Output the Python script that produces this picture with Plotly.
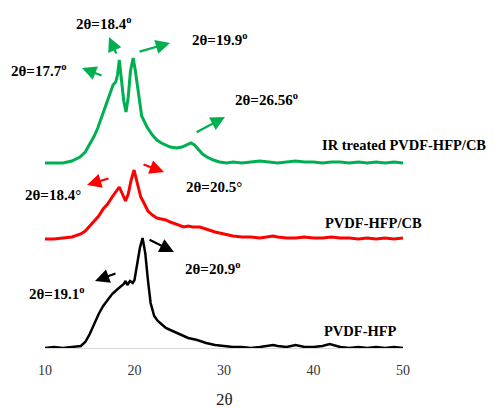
import plotly.graph_objects as go

# ---------------- data (2theta in degrees, intensity in a.u. above each baseline) -------------
two_theta_pvdf = [10, 11, 12, 13, 13.5, 14, 14.5, 15, 15.5, 16, 16.5, 17, 17.5, 18, 18.5, 18.8,
                  19.0, 19.2, 19.5, 19.8, 20.0, 20.3, 20.6, 20.9, 21.2, 21.5, 21.8, 22.2, 22.6,
                  23, 23.5, 24, 25, 26, 27, 28, 29, 30, 31, 32, 33, 34, 35, 35.5, 36, 37, 38,
                  38.5, 39, 40, 41, 41.8, 42.5, 43, 44, 45, 46, 47, 48, 49, 50]
int_pvdf = [0, 1, 0, 1, 1, 2, 6, 14, 24, 34, 42, 48, 54, 58, 62, 64,
            67, 63, 67, 65, 68, 85, 100, 110, 95, 68, 45, 32, 27,
            24, 20, 18, 14, 10, 8, 5, 3, 2, 1, 1, 0, 1, 2, 3, 2, 1, 3,
            2, 1, 1, 2, 4, 2, 1, 0, 1, 0, 1, 0, 1, 0]

two_theta_cb = [10, 11, 12, 13, 14, 14.5, 15, 15.5, 16, 16.5, 17, 17.5, 18.0, 18.3, 18.6, 19.0,
                19.3, 19.6, 19.95, 20.3, 20.7, 21.0, 21.5, 22, 22.5, 23, 23.5, 24, 25, 25.5,
                26, 26.5, 27.3, 28, 29, 30, 31, 32, 33, 34, 35, 35.5, 36, 37, 38, 39, 40, 41,
                42, 43, 44, 45, 46, 47, 48, 49, 50]
int_cb = [0, 0, 1, 2, 5, 8, 13, 18, 23, 30, 35, 42, 48, 52, 46, 38,
          45, 58, 69, 55, 42, 37, 28, 24, 21, 20, 19, 17, 14, 12,
          13, 12, 12, 10, 7, 5, 3, 2, 2, 1, 2, 3, 2, 1, 1, 2, 1, 1,
          2, 1, 1, 0, 1, 0, 1, 0, 1]

two_theta_ir = [10, 11, 12, 13, 13.9, 14.5, 15, 15.5, 15.9, 16.5, 17.0, 17.3, 17.6, 17.9, 18.1,
                18.3, 18.55, 18.8, 19.05, 19.3, 19.55, 19.85, 20.1, 20.4, 20.8, 21.4, 22,
                22.5, 23, 24, 24.7, 25.3, 25.8, 26.3, 26.7, 27.2, 27.6, 28.1, 28.8, 29.5,
                30.3, 31, 32, 33, 34, 35, 36, 37, 38, 39, 40, 41, 42, 43, 44, 45, 46, 47,
                48, 49, 50]
int_ir = [0, 0, 0, 2, 6, 11, 19, 27, 35, 50, 63, 72, 78, 81, 88,
          103, 85, 62, 51, 66, 92, 105, 92, 73, 47, 36, 28,
          23, 20, 16, 15, 16, 18, 20, 18, 13, 9, 6, 3, 1,
          0, 1, 0, 1, 2, 1, 0, 1, 2, 1, 1, 0, 1, 1, 0, 1, 0, 1,
          0, 1, 0]

series_names = ["PVDF-HFP", "PVDF-HFP/CB", "IR treated PVDF-HFP/CB"]
series_offsets = [0, 109, 185]
series_colors = ["#000000", "#ff0000", "#00b050"]
tick_values = [10, 20, 30, 40, 50]
tick_labels = ["10", "20", "30", "40", "50"]

# peak labels: (text, x, y, anchor)
peak_labels = [
    ("2θ=18.4<sup>o</sup>", 16.48, 325, "center"),
    ("2θ=19.9<sup>o</sup>", 29.55, 309, "center"),
    ("2θ=17.7<sup>o</sup>", 12.60, 278, "right"),
    ("2θ=26.56<sup>o</sup>", 34.8, 249, "center"),
    ("2θ=18.4°", 10.89, 153, "center"),
    ("2θ=20.5°", 28.88, 161, "center"),
    ("2θ=20.9<sup>o</sup>", 28.66, 80, "center"),
    ("2θ=19.1<sup>o</sup>", 11.23, 55, "center"),
]
series_label_pos = [(40.95, 17), (41.06, 125), (40.73, 203)]

# arrows: (tip_x, tip_y, tail_x, tail_y, series index)
arrows = [
    (14.13, 280, 16.48, 272, 2),
    (17.15, 311, 18.04, 293, 2),
    (23.97, 305, 20.39, 296, 2),
    (30.11, 231, 26.76, 215, 2),
    (14.69, 163, 17.26, 170, 1),
    (23.30, 176, 20.84, 184, 1),
    (24.41, 96, 21.51, 109, 0),
    (15.59, 67, 18.04, 75, 0),
]

# ---------------- figure -------------
xs = [two_theta_pvdf, two_theta_cb, two_theta_ir]
ys = [int_pvdf, int_cb, int_ir]
widths = [2.5, 3, 3]

fig = go.Figure()
for i in range(3):
    fig.add_trace(go.Scatter(
        x=xs[i], y=[v + series_offsets[i] for v in ys[i]],
        mode="lines", name=series_names[i],
        line=dict(color=series_colors[i], width=widths[i]),
        showlegend=False,
    ))

FONT = "Liberation Serif"
ann = []
for text, x, y, anc in peak_labels:
    ann.append(dict(x=x, y=y, xref="x", yref="y", text="<b>%s</b>" % text, showarrow=False,
                    xanchor=anc, yanchor="middle",
                    font=dict(family=FONT, size=15, color="#000000")))
for i, (x, y) in enumerate(series_label_pos):
    ann.append(dict(x=x, y=y, xref="x", yref="y", text="<b>%s</b>" % series_names[i],
                    showarrow=False, xanchor="left", yanchor="middle",
                    font=dict(family=FONT, size=14.5, color="#000000")))
for tx, ty, ax, ay, s in arrows:
    ann.append(dict(x=tx, y=ty, ax=ax, ay=ay, xref="x", yref="y", axref="x", ayref="y",
                    text="", showarrow=True, arrowhead=2, arrowsize=1.3, arrowwidth=2.2,
                    arrowcolor=series_colors[s]))
ann.append(dict(x=0.5, y=-0.148, xref="paper", yref="paper", text="2θ", showarrow=False,
                xanchor="center", yanchor="middle",
                font=dict(family=FONT, size=17, color="#222222")))

fig.update_layout(
    width=494, height=409,
    margin=dict(l=45, r=91, t=0, b=61),
    paper_bgcolor="white", plot_bgcolor="white",
    annotations=ann,
    xaxis=dict(range=[10, 50], tickvals=tick_values, ticktext=tick_labels,
               showgrid=False, zeroline=False, showline=True, linecolor="#d9d9d9",
               linewidth=1, ticks="", ticklabelstandoff=9,
               tickfont=dict(family=FONT, size=14, color="#333333")),
    yaxis=dict(range=[0, 348], visible=False, showgrid=False, zeroline=False),
)

fig.write_html("out.html", config={"displayModeBar": False},
               post_script="document.body.style.margin='0';")
